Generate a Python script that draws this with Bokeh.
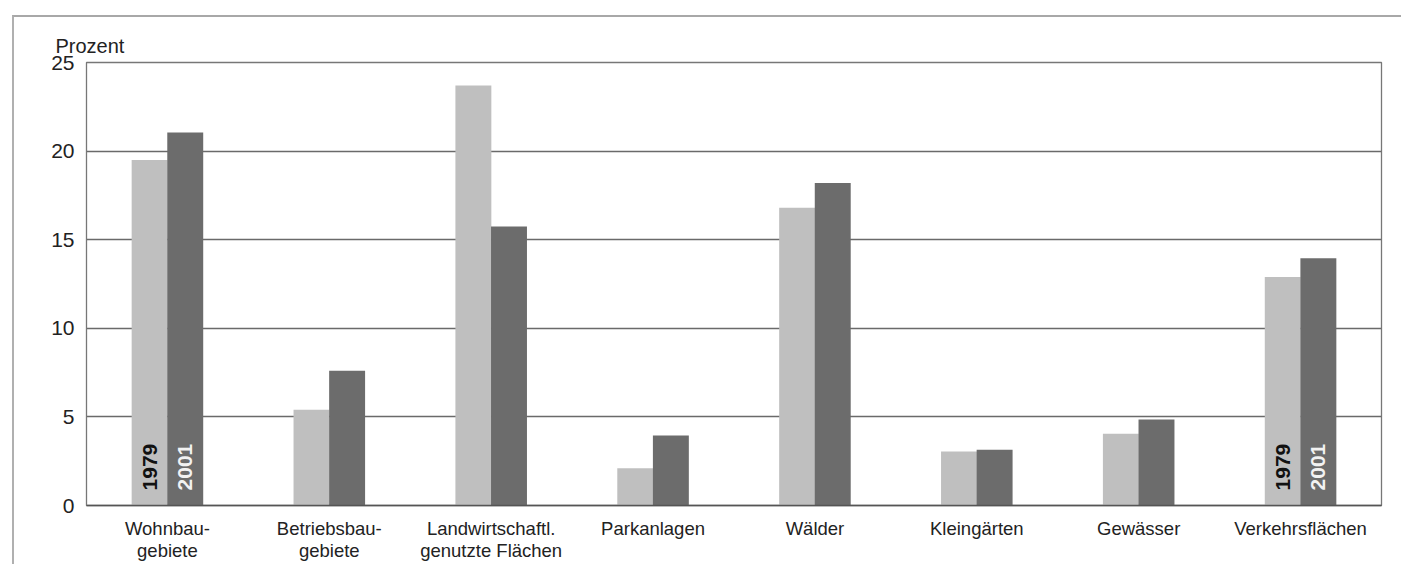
from bokeh.plotting import figure
from bokeh.models import ColumnDataSource, FactorRange, SingleIntervalTicker
from bokeh.core.properties import value
from bokeh.transform import dodge
from bokeh.embed import file_html
from bokeh.resources import INLINE

categories = ["Wohnbau-\ngebiete", "Betriebsbau-\ngebiete", "Landwirtschaftl.\ngenutzte Flächen",
              "Parkanlagen", "Wälder", "Kleingärten", "Gewässer", "Verkehrsflächen"]
values_1979 = [19.5, 5.4, 23.7, 2.1, 16.8, 3.05, 4.05, 12.9]
values_2001 = [21.05, 7.6, 15.75, 3.95, 18.2, 3.15, 4.85, 13.95]
year_labels = ["1979", "2001"]

FONT = "Liberation Sans"
LIGHT = "#bfbfbf"
DARK = "#6c6c6c"
GRID = "#6a6a6a"

src = ColumnDataSource(data=dict(cat=categories, v1979=values_1979, v2001=values_2001))

p = figure(x_range=FactorRange(*categories, range_padding=0), y_range=(0, 25),
           width=1389, height=549, output_backend="svg", toolbar_location=None,
           min_border_left=72, min_border_right=22, min_border_top=45, min_border_bottom=61,
           title="Prozent")
p.margin = (7, 0, 0, 4)
p.styles = {"border-left": "2px solid #b0b0b0", "border-top": "2px solid #a8a8a8",
            "box-sizing": "border-box"}

p.title.align = "left"
p.title.offset = -31
p.title.text_font = FONT
p.title.text_font_size = "20px"
p.title.text_font_style = "normal"
p.title.text_color = "#222222"
p.title.standoff = 11

p.vbar(x=dodge("cat", -0.11, range=p.x_range), top="v1979", width=0.222, source=src,
       fill_color=LIGHT, line_color=None)
p.vbar(x=dodge("cat", 0.11, range=p.x_range), top="v2001", width=0.222, source=src,
       fill_color=DARK, line_color=None)

# year labels inside the first and last groups
for cat in (categories[0], categories[-1]):
    p.text(x=[(cat, -0.11)], y=[0.85], text=[year_labels[0]], angle=1.5708,
           text_font=value(FONT), text_font_style="bold", text_font_size="21px",
           text_color="#111111", text_baseline="middle", text_align="left")
    p.text(x=[(cat, 0.11)], y=[0.85], text=[year_labels[1]], angle=1.5708,
           text_font=value(FONT), text_font_style="bold", text_font_size="21px",
           text_color="#f2f2f2", text_baseline="middle", text_align="left")

p.xgrid.grid_line_color = None
p.ygrid.grid_line_color = GRID
p.ygrid.grid_line_width = 1.3
p.ygrid.level = "underlay"
p.outline_line_color = "#777777"
p.outline_line_width = 1.3
p.background_fill_color = "white"
p.border_fill_color = "white"

p.yaxis.ticker = SingleIntervalTicker(interval=5)
p.yaxis.axis_line_color = "#777777"
p.yaxis.major_tick_line_color = None
p.yaxis.minor_tick_line_color = None
p.yaxis.major_label_text_font = FONT
p.yaxis.major_label_text_font_size = "21px"
p.yaxis.major_label_text_color = "#222222"
p.yaxis.major_label_standoff = 6

p.xaxis.axis_line_color = "#555555"
p.xaxis.axis_line_width = 1.5
p.xaxis.major_tick_line_color = None
p.xaxis.minor_tick_line_color = None
p.xaxis.major_label_text_font = FONT
p.xaxis.major_label_text_font_size = "18.5px"
p.xaxis.major_label_text_line_height = 1.05
p.xaxis.major_label_text_color = "#222222"
p.xaxis.major_label_standoff = 6

html = file_html(p, INLINE)
html = html.replace("<body>", "<body style=\"margin:8px; overflow:hidden\">")
open("out.html", "w").write(html)
